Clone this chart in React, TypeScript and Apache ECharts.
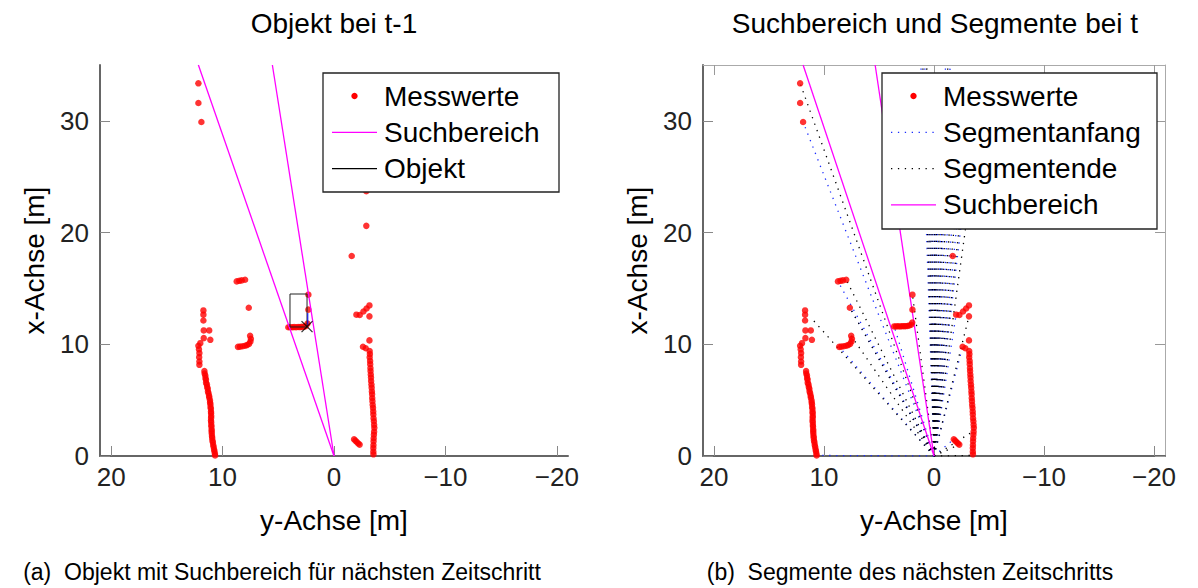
import React, { useEffect, useRef } from "react";
import * as echarts from "echarts";

const FONT = '"Liberation Sans", Arial, Helvetica, sans-serif';

// Punkte als [y, x] in Metern (y horizontal, nach links positiv)
const obenLinks: [number, number][] = [
  [12.17, 33.36], [12.17, 31.6], [11.9, 29.9],
];

const wandLinksOben: [number, number][] = [
  [11.72, 13.03], [11.72, 12.65], [11.72, 12.13], [11.69, 11.24], [11.2, 11.24],
  [11.69, 10.55], [11.1, 10.4], [12.0, 10.1], [12.17, 9.87], [12.12, 9.55],
  [12.08, 9.21], [12.1, 8.85], [12.08, 8.46], [12.08, 8.16],
];

const wandLinks: [number, number][] = [
  [11.63, 7.6], [11.61, 7.38], [11.55, 7.21], [11.53, 6.97], [11.49, 6.82],
  [11.48, 6.55], [11.41, 6.41], [11.38, 6.18], [11.33, 6.02], [11.31, 5.77],
  [11.26, 5.62], [11.21, 5.38], [11.19, 5.22], [11.13, 4.98], [11.12, 4.79],
  [11.09, 4.63], [11.08, 4.39], [11.05, 4.22], [11.04, 3.97], [11.03, 3.83],
  [11.02, 3.58], [11.03, 3.41], [11.04, 3.18], [11.02, 3.01], [11.01, 2.78],
  [11.0, 2.62], [10.98, 2.37], [10.98, 2.21], [10.97, 2.02], [10.95, 1.79],
  [10.93, 1.62], [10.91, 1.38], [10.87, 1.22], [10.84, 0.98], [10.8, 0.81],
  [10.76, 0.58], [10.73, 0.42], [10.69, 0.21], [10.67, 0.05],
];

const zweiteGruppe: [number, number][] = [
  [8.73, 15.63], [8.5, 15.68], [8.28, 15.72], [7.98, 15.78], [7.65, 13.27],
  [7.53, 10.76], [7.46, 10.5], [7.5, 10.25], [7.62, 10.04], [7.8, 9.93],
  [7.98, 9.87], [8.2, 9.82], [8.43, 9.79], [8.62, 9.77],
];

const rechtsVorne: [number, number][] = [
  [-2.01, 12.65], [-2.31, 12.62], [-2.64, 12.94], [-2.92, 13.2], [-3.18, 13.48],
  [-3.18, 12.5], [-3.18, 10.35], [-2.6, 9.78], [-2.85, 9.64],
];

const wandRechts: [number, number][] = [
  [-3.2, 9.4], [-3.22, 9.12], [-3.2, 8.83], [-3.24, 8.51], [-3.25, 8.22],
  [-3.27, 7.88], [-3.28, 7.61], [-3.3, 7.29], [-3.32, 7.02], [-3.33, 6.71],
  [-3.36, 6.39], [-3.38, 6.12], [-3.4, 5.78], [-3.42, 5.52], [-3.43, 5.19],
  [-3.45, 4.91], [-3.47, 4.58], [-3.5, 4.31], [-3.52, 3.99], [-3.53, 3.72],
  [-3.55, 3.38], [-3.58, 3.11], [-3.6, 2.79], [-3.62, 2.52], [-3.6, 2.18],
  [-3.58, 1.91], [-3.56, 1.59], [-3.55, 1.31], [-3.54, 0.98], [-3.53, 0.71],
  [-3.53, 0.39], [-3.54, 0.15],
];

const kleineGruppe: [number, number][] = [
  [-1.8, 1.5], [-1.92, 1.38], [-2.05, 1.25], [-2.18, 1.12], [-2.3, 1.02],
];

// Objektpunkte zu t-1 und t
const objektPunkteT1: [number, number][] = [
  [4.1, 11.52], [3.92, 11.53], [3.75, 11.52], [3.58, 11.54], [3.4, 11.53],
  [3.22, 11.55], [3.05, 11.54], [2.88, 11.56], [2.7, 11.57], [2.55, 11.62],
  [2.38, 11.85], [2.3, 13.1], [2.3, 14.44],
];
const weitereT1: [number, number][] = [[-1.59, 17.9], [-2.9, 20.6], [-2.9, 23.7]];

const objektPunkteT: [number, number][] = [
  [3.62, 11.6], [3.45, 11.6], [3.28, 11.61], [3.1, 11.6], [2.93, 11.61],
  [2.76, 11.62], [2.6, 11.62], [2.42, 11.64], [2.25, 11.68], [2.08, 11.75],
  [1.98, 11.95], [1.96, 13.1], [1.96, 14.44],
];
const weitereT: [number, number][] = [[-1.7, 17.9]];

// Objekt (Rechteck), Bezugspunkt und Richtung zu t-1
const objektBox: [number, number][] = [
  [3.95, 11.55], [2.42, 11.55], [2.42, 14.5], [3.95, 14.5], [3.95, 11.55],
];
const objektBezug: [number, number][] = [[2.42, 11.58]];
const objektRichtung: [number, number][] = [[2.35, 11.75], [2.35, 12.8]];

// Suchbereich: Randstrahlen vom Sensor aus
const suchbereichT1: [number, number][] = [[12.17, 35], [5.53, 35]];
const suchbereichT: [number, number][] = [[11.9, 35], [5.35, 35]];

// Endpunkte der Segmentstrahlen
const segmentAnfang: [number, number][] = [
  [10.67, 0.05], [8.62, 9.77], [7.65, 13.27], [8.73, 15.63], [11.9, 29.9], [3.62, 11.6],
  [1.36, 40], [0.96, 40], [0.36, 26], [0.1, 25], [-0.17, 28], [-0.4, 25],
  [-1.2, 40], [-1.68, 40], [-1.5, 25], [-1.9, 24], [-2.3, 23], [-2.6, 21.8],
  [-2.01, 12.65], [-2.6, 9.78], [-1.8, 1.5],
];
const segmentEnde: [number, number][] = [
  [11.2, 12.4], [7.53, 10.76], [7.65, 13.27], [7.98, 15.78], [12.17, 33.36], [1.96, 14.44],
  [1.16, 40], [0.76, 40], [0.24, 27], [-0.02, 25], [-0.3, 27], [-0.6, 26],
  [-1.44, 40], [-1.3, 26], [-1.7, 24.5], [-2.1, 23.5], [-2.5, 22.3], [-2.9, 20.6],
  [-3.18, 12.5], [-3.7, 2.3], [-2.3, 1.02], [-3.55, 0.05],
];

const yTicks = [-20, -10, 0, 10, 20];
const xTicks = [0, 10, 20, 30];

const minus = (v: number) => (v < 0 ? "\u2212" + Math.abs(v) : String(v));

const ROT = "#ff0000";
const MAGENTA = "#ff00ff";
const BLAU = "#1a2cff";
const SCHWARZ = "#000000";
const PUNKT = [1.3, 5.6];

function unten(gridIndex: number) {
  return {
    gridIndex,
    type: "value",
    inverse: true,
    min: -21,
    max: 21,
    name: "y-Achse [m]",
    nameLocation: "middle",
    nameGap: 50,
    nameTextStyle: { fontSize: 28, fontFamily: FONT, color: "#000" },
    axisLine: { show: true, onZero: false, lineStyle: { color: "#666", width: 2 } },
    axisTick: { show: true, inside: true, length: 10, customValues: yTicks, lineStyle: { color: "#888", width: 1 } },
    axisLabel: { customValues: yTicks, formatter: minus, fontSize: 26, fontFamily: FONT, color: "#222", margin: 8 },
    splitLine: { show: false },
  };
}

function links(gridIndex: number) {
  return {
    gridIndex,
    type: "value",
    min: 0,
    max: 35,
    name: "x-Achse [m]",
    nameLocation: "middle",
    nameGap: 52,
    nameTextStyle: { fontSize: 28, fontFamily: FONT, color: "#000" },
    axisLine: { show: true, onZero: false, lineStyle: { color: "#666", width: 2 } },
    axisTick: { show: true, inside: true, length: 10, customValues: xTicks, lineStyle: { color: "#888", width: 1 } },
    axisLabel: { customValues: xTicks, fontSize: 26, fontFamily: FONT, color: "#222", margin: 11 },
    splitLine: { show: false },
  };
}

function strahlen(ende: [number, number][]) {
  return ende.map((p) => ({ coords: [[0, 0], p] }));
}

function legende(
  x: number, y: number, w: number, h: number,
  eintraege: { text: string; art: "punkt" | "linie"; farbe: string; dash?: number[] }[],
) {
  const els: any[] = [
    { type: "rect", shape: { x, y, width: w, height: h }, style: { fill: "#fff", stroke: "#222", lineWidth: 1.3 }, z: 100 },
  ];
  eintraege.forEach((e, i) => {
    const cy = y + 23 + i * 36.3;
    if (e.art === "punkt") {
      els.push({ type: "circle", shape: { cx: x + 31.5, cy, r: 3.2 }, style: { fill: e.farbe }, z: 101 });
    } else {
      els.push({
        type: "line",
        shape: { x1: x + 9, y1: cy, x2: x + 54, y2: cy },
        style: { stroke: e.farbe, lineWidth: e.dash ? 1.3 : 1.2, lineDash: e.dash || null },
        z: 101,
      });
    }
    els.push({
      type: "text",
      x: x + 61,
      y: cy,
      style: { text: e.text, font: `28px ${FONT}`, fill: "#000", textVerticalAlign: "middle", verticalAlign: "middle" },
      z: 101,
    });
  });
  return els;
}

function text(t: string, x: number, y: number, size: number) {
  return {
    type: "text",
    x,
    y,
    style: {
      text: t, font: `${size}px ${FONT}`, fill: "#000",
      textAlign: "center", align: "center", textVerticalAlign: "middle", verticalAlign: "middle",
    },
  };
}

export default function App() {
  const ref = useRef<HTMLDivElement>(null);

  useEffect(() => {
    if (!ref.current) return;
    const chart = echarts.init(ref.current, null, { renderer: "svg" });

    const messwerteT1 = [
      ...obenLinks, ...wandLinksOben, ...wandLinks, ...zweiteGruppe, ...objektPunkteT1,
      ...rechtsVorne, ...wandRechts, ...kleineGruppe, ...weitereT1,
    ];
    const messwerteT = [
      ...obenLinks, ...wandLinksOben, ...wandLinks, ...zweiteGruppe, ...objektPunkteT,
      ...rechtsVorne, ...wandRechts, ...kleineGruppe, ...weitereT,
    ];

    const suchLinie = (p: [number, number], ax: number) => ({
      type: "line",
      name: "Suchbereich",
      xAxisIndex: ax,
      yAxisIndex: ax,
      data: [[0, 0], p],
      showSymbol: false,
      lineStyle: { color: MAGENTA, width: 1.3 },
      z: 4,
      silent: true,
    });

    const option: any = {
      animation: false,
      backgroundColor: "#fff",
      grid: [
        { left: 100, top: 65, width: 468, height: 391 },
        { left: 703, top: 65, width: 462, height: 391 },
      ],
      xAxis: [
        unten(0),
        unten(1),
        {
          gridIndex: 1, type: "value", inverse: true, min: -21, max: 21, position: "top",
          axisLine: { show: true, onZero: false, lineStyle: { color: "#aaa", width: 1 } },
          axisTick: { show: true, inside: true, length: 10, customValues: yTicks, lineStyle: { color: "#999" } },
          axisLabel: { show: false }, splitLine: { show: false },
        },
      ],
      yAxis: [
        links(0),
        links(1),
        {
          gridIndex: 1, type: "value", min: 0, max: 35, position: "right",
          axisLine: { show: true, onZero: false, lineStyle: { color: "#aaa", width: 1 } },
          axisTick: { show: true, inside: true, length: 10, customValues: xTicks, lineStyle: { color: "#999" } },
          axisLabel: { show: false }, splitLine: { show: false },
        },
      ],
      series: [
        // links: Objekt bei t-1
        suchLinie(suchbereichT1[0], 0),
        suchLinie(suchbereichT1[1], 0),
        {
          type: "scatter", name: "Messwerte", xAxisIndex: 0, yAxisIndex: 0,
          data: messwerteT1, symbolSize: 6.5, itemStyle: { color: ROT }, z: 3, silent: true,
        },
        {
          type: "line", name: "Objekt", xAxisIndex: 0, yAxisIndex: 0, data: objektBox,
          showSymbol: false, lineStyle: { color: "#222", width: 1 }, z: 5, silent: true,
        },
        {
          type: "line", name: "Richtung", xAxisIndex: 0, yAxisIndex: 0, data: objektRichtung,
          showSymbol: false, lineStyle: { color: "#0000ff", width: 1 }, z: 5, silent: true,
        },
        {
          type: "scatter", name: "Bezugspunkt", xAxisIndex: 0, yAxisIndex: 0, data: objektBezug,
          symbol: "path://M0,0L10,10M10,0L0,10", symbolSize: 11,
          itemStyle: { color: "none", borderColor: "#000", borderWidth: 1.3 }, z: 6, silent: true,
        },
        // rechts: Suchbereich und Segmente bei t
        {
          type: "lines", name: "Segmentanfang", coordinateSystem: "cartesian2d", xAxisIndex: 1, yAxisIndex: 1,
          data: strahlen(segmentAnfang), clip: true,
          lineStyle: { color: BLAU, width: 1.3, type: PUNKT, opacity: 1 }, z: 2, silent: true,
        },
        {
          type: "lines", name: "Segmentende", coordinateSystem: "cartesian2d", xAxisIndex: 1, yAxisIndex: 1,
          data: strahlen(segmentEnde), clip: true,
          lineStyle: { color: SCHWARZ, width: 1.3, type: PUNKT, opacity: 1 }, z: 2, silent: true,
        },
        suchLinie(suchbereichT[0], 1),
        suchLinie(suchbereichT[1], 1),
        {
          type: "scatter", name: "Messwerte", xAxisIndex: 1, yAxisIndex: 1,
          data: messwerteT, symbolSize: 6.5, itemStyle: { color: ROT }, z: 5, silent: true,
        },
      ],
      graphic: [
        text("Objekt bei t-1", 334, 23, 28),
        text("Suchbereich und Segmente bei t", 935, 23, 28),
        text("(a)\u00a0 Objekt mit Suchbereich für nächsten Zeitschritt", 282, 572, 23),
        text("(b)\u00a0 Segmente des nächsten Zeitschritts", 910, 572, 23),
        ...legende(323, 73, 236, 119, [
          { text: "Messwerte", art: "punkt", farbe: ROT },
          { text: "Suchbereich", art: "linie", farbe: MAGENTA },
          { text: "Objekt", art: "linie", farbe: "#000" },
        ]),
        ...legende(882, 73, 275, 156, [
          { text: "Messwerte", art: "punkt", farbe: ROT },
          { text: "Segmentanfang", art: "linie", farbe: BLAU, dash: [1.3, 5.6] },
          { text: "Segmentende", art: "linie", farbe: SCHWARZ, dash: [1.3, 5.6] },
          { text: "Suchbereich", art: "linie", farbe: MAGENTA },
        ]),
      ],
    };

    chart.setOption(option);
    return () => chart.dispose();
  }, []);

  return (
    <div
      ref={ref}
      style={{ position: "absolute", left: 0, top: 0, width: 1198, height: 588, background: "#fff" }}
    />
  );
}
